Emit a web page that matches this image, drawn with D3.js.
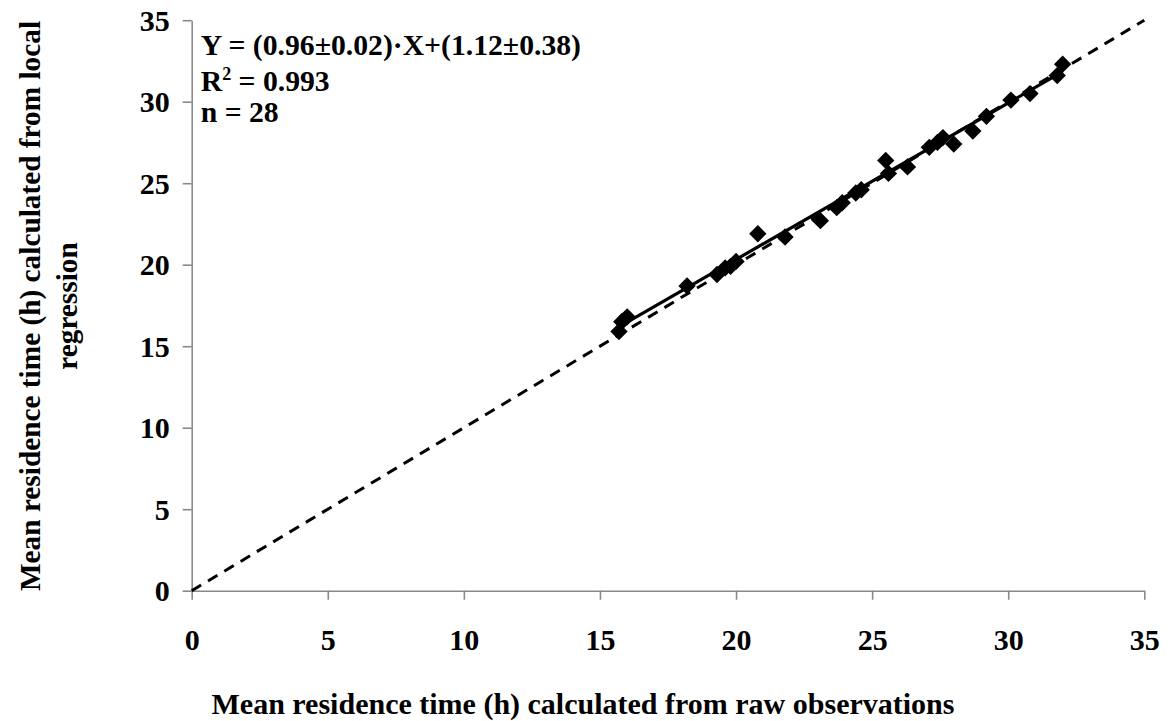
<!DOCTYPE html>
<html>
<head>
<meta charset="utf-8">
<script src="https://cdn.jsdelivr.net/npm/d3@7"></script>
<style>
  html, body { margin: 0; padding: 0; background: #fff; }
  svg { display: block; }
  text { font-family: "Liberation Serif", "Times New Roman", serif; font-weight: bold; fill: #000; }
</style>
</head>
<body>
<svg id="chart" width="1173" height="721"></svg>
<script>
// Mean residence time (h): raw observations (x) vs local regression (y)
const rawObs = [15.7, 15.8, 16.0, 18.2, 19.3, 19.6, 19.8, 20.0, 20.8, 21.8,
                23.1, 23.7, 23.9, 24.4, 24.6, 25.5, 25.6, 26.3, 27.1, 27.4,
                27.6, 28.0, 28.7, 29.2, 30.1, 30.8, 31.8, 32.0];
const localReg = [15.9, 16.5, 16.8, 18.7, 19.4, 19.8, 19.9, 20.2, 21.9, 21.7,
                  22.7, 23.5, 23.8, 24.4, 24.6, 26.4, 25.6, 26.0, 27.2, 27.5,
                  27.8, 27.4, 28.2, 29.1, 30.1, 30.5, 31.6, 32.3];
const axisTicks = [0, 5, 10, 15, 20, 25, 30, 35];
const fitSlope = 0.96;
const fitIntercept = 1.12;
const annotation = ["Y = (0.96±0.02)·X+(1.12±0.38)", "R2 = 0.993", "n = 28"];

const svg = d3.select("#chart");
const m = { left: 191.7, right: 1144.3, top: 20.2, bottom: 590.7 };

const x = d3.scaleLinear().domain([0, 35]).range([m.left, m.right]);
const y = d3.scaleLinear().domain([0, 35]).range([m.bottom, m.top]);
const axisColor = "#898989";
const fontFamily = '"Liberation Serif", "Times New Roman", serif';

// Axes
const xAxis = svg.append("g")
  .attr("transform", `translate(0,${m.bottom})`)
  .call(d3.axisBottom(x).tickValues(axisTicks).tickSize(9).tickSizeOuter(0).tickPadding(29));
const yAxis = svg.append("g")
  .attr("transform", `translate(${m.left},0)`)
  .call(d3.axisLeft(y).tickValues(axisTicks).tickSize(9).tickSizeOuter(0).tickPadding(13));

[xAxis, yAxis].forEach(g => {
  g.select(".domain").attr("stroke", axisColor).attr("stroke-width", 1.6);
  g.selectAll(".tick line").attr("stroke", axisColor).attr("stroke-width", 1.6);
  g.selectAll(".tick text")
    .style("font-family", fontFamily)
    .style("font-weight", "bold")
    .style("font-size", "30px")
    .attr("fill", "#000");
});
yAxis.selectAll(".tick text").attr("dy", "0.34em");

// 1:1 reference line
svg.append("line")
  .attr("x1", x(0)).attr("y1", y(0))
  .attr("x2", x(35)).attr("y2", y(35))
  .attr("stroke", "#000")
  .attr("stroke-width", 3)
  .attr("stroke-dasharray", "11,8");

// Fitted regression line across the observed range
const xMin = d3.min(rawObs), xMax = d3.max(rawObs);
svg.append("line")
  .attr("x1", x(xMin)).attr("y1", y(fitSlope * xMin + fitIntercept))
  .attr("x2", x(xMax)).attr("y2", y(fitSlope * xMax + fitIntercept))
  .attr("stroke", "#000")
  .attr("stroke-width", 3.2);

// Diamond markers
const diamond = d3.symbol().type(d3.symbolSquare).size(150);
svg.append("g").selectAll("path")
  .data(rawObs.map((v, i) => [v, localReg[i]]))
  .join("path")
  .attr("d", diamond)
  .attr("transform", d => `translate(${x(d[0])},${y(d[1])}) rotate(45)`)
  .attr("fill", "#000");

// Fit statistics
const ann = svg.append("g").attr("transform", `translate(${m.left + 9},0)`);
ann.append("text").attr("y", 55).style("font-size", "29.7px").text(annotation[0]);
const r2 = ann.append("text").attr("y", 91).style("font-size", "29.7px");
r2.append("tspan").text("R");
r2.append("tspan").attr("dy", -11).style("font-size", "18px").text("2");
r2.append("tspan").attr("dy", 11).text(annotation[1].slice(2));
ann.append("text").attr("y", 122).style("font-size", "29.7px").text(annotation[2]);

// Axis titles
svg.append("text")
  .attr("x", 583)
  .attr("y", 714)
  .attr("text-anchor", "middle")
  .style("font-size", "30px")
  .text("Mean residence time (h) calculated from raw observations");

const yTitle = svg.append("text")
  .attr("transform", `translate(0,306) rotate(-90)`)
  .attr("text-anchor", "middle")
  .style("font-size", "29.3px");
yTitle.append("tspan").attr("x", 0).attr("y", 40).text("Mean residence time (h) calculated from local");
yTitle.append("tspan").attr("x", 0).attr("y", 77).text("regression");
</script>
</body>
</html>
